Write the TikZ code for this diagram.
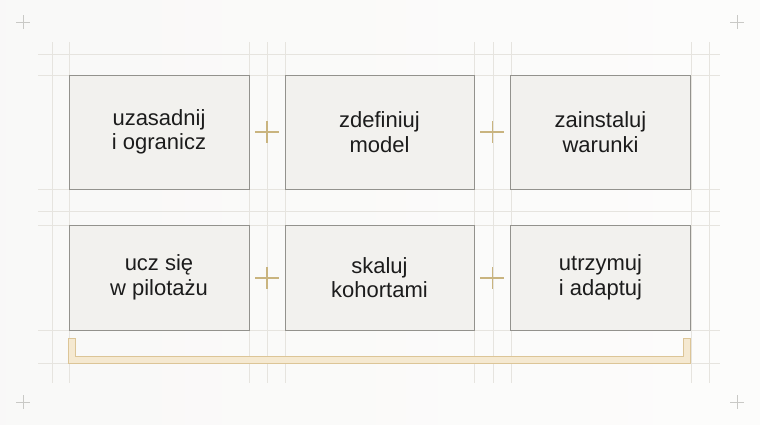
\documentclass[tikz,border=0pt]{standalone}
\usepackage{fontspec}
\setmainfont{Liberation Sans}
\usetikzlibrary{calc}
\definecolor{bgc}{HTML}{F6F5F2}
\definecolor{boxfill}{HTML}{F2F1EE}
\definecolor{boxline}{HTML}{93928D}
\definecolor{guide}{HTML}{E6E4DF}
\definecolor{goldc}{HTML}{C9B47F}
\definecolor{brfill}{HTML}{F5E9D1}
\definecolor{brline}{HTML}{DCC597}
\definecolor{cornerc}{HTML}{C9C9C6}
\definecolor{txt}{HTML}{1C1C1C}
\tikzset{
  stagebox/.style={draw=boxline, line width=0.9pt, fill=boxfill, inner sep=0pt,
    align=center, text=txt, font=\fontsize{22}{24.5}\selectfont},
  guideline/.style={draw=guide, line width=0.8pt},
  goldplus/.style={draw=goldc, line width=1.1pt},
  cornerplus/.style={draw=cornerc, line width=0.8pt},
}
\begin{document}
\begin{tikzpicture}[x=1pt,y=-1pt]
\useasboundingbox (0,0) rectangle (760,424);
\shade[left color=bgc!90!gray!30, right color=white!70!bgc] (0,0) rectangle (760,424);
% guides
\foreach \gx in {52,69,249,267,285,474,493,511,691,709}
  \draw[guideline] (\gx,42) -- (\gx,383);
\foreach \gy in {54,75,189,211.5,225,330,363}
  \draw[guideline] (38,\gy) -- (720,\gy);
% corner pluses
\foreach \cx/\cy in {23/22,737/22,23/402,737/402}
  \draw[cornerplus] (\cx-7,\cy) -- (\cx+7,\cy) (\cx,\cy-7) -- (\cx,\cy+7);
% boxes
\node[stagebox, minimum width=180pt, minimum height=114pt] (b1) at (159,132) {uzasadnij\\i ogranicz};
\node[stagebox, minimum width=189pt, minimum height=114pt] (b2) at (379.5,132) {zdefiniuj\\model};
\node[stagebox, minimum width=180pt, minimum height=114pt] (b3) at (600.5,132) {zainstaluj\\warunki};
\node[stagebox, minimum width=180pt, minimum height=105pt] (b4) at (159,277.5) {ucz się\\w pilotażu};
\node[stagebox, minimum width=189pt, minimum height=105pt] (b5) at (379.5,277.5) {skaluj\\kohortami};
\node[stagebox, minimum width=180pt, minimum height=105pt] (b6) at (600.5,277.5) {utrzymuj\\i adaptuj};
% gold pluses between boxes
\foreach \a/\b/\n/\dy in {b1/b2/p1/0,b2/b3/p2/0,b4/b5/p3/0.5,b5/b6/p4/0.5}{
  \coordinate (\n) at ($(\a.east)!0.5!(\b.west)+(0,\dy)$);
  \draw[goldplus] ($(\n)+(-12,0)$) -- ($(\n)+(12,0)$) ($(\n)+(0,-11)$) -- ($(\n)+(0,11)$);
}
% bracket
\coordinate (brL) at ($(b4.south west)+(0,8)$);
\coordinate (brR) at ($(b6.south east)+(0,8)$);
\filldraw[fill=brfill, draw=brline, line width=1pt]
  (brL) -- ++(0,25) -- ($(brR)+(0,25)$) -- (brR) -- ++(-7,0) -- ++(0,18)
  -- ($(brL)+(7,18)$) -- ($(brL)+(7,0)$) -- cycle;
\end{tikzpicture}
\end{document}
